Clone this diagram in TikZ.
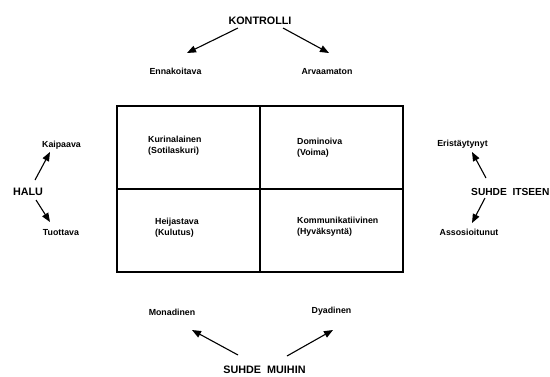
\documentclass[tikz,border=0pt]{standalone}
\usepackage{fontspec}
\setmainfont{Liberation Sans}
\usetikzlibrary{arrows.meta}
\tikzset{
  lbl/.style={font=\bfseries\fontsize{8.8}{10.5}\selectfont, inner sep=0pt, align=left},
  caplbl/.style={font=\bfseries\fontsize{10.8}{12}\selectfont, inner sep=0pt},
  arr/.style={line width=1.1pt, -{Triangle[length=9pt,width=7pt]}},
  gridline/.style={line width=1.3pt}
}
\begin{document}
\begin{tikzpicture}[x=1pt,y=-1pt]
\useasboundingbox (0,0) rectangle (550,376);
% box
\draw[gridline] (117,106) rectangle (403,272);
\draw[gridline] (260,106) -- (260,272);
\draw[gridline] (117,189) -- (403,189);
% quadrant texts
\node[lbl, anchor=west] (kuri) at (148,145.5) {Kurinalainen\\(Sotilaskuri)};
\node[lbl, anchor=west] (domi) at (297,147.5) {Dominoiva\\(Voima)};
\node[lbl, anchor=west] (heij) at (155,227.5) {Heijastava\\(Kulutus)};
\node[lbl, anchor=west] (komm) at (297,226.5) {Kommunikatiivinen\\(Hyväksyntä)};
% top
\node[caplbl] (kontrolli) at (260,21) {KONTROLLI};
\node[lbl] (enna) at (175.5,71) {Ennakoitava};
\node[lbl] (arva) at (327,72) {Arvaamaton};
\draw[arr] ([shift={(-22,7)}]kontrolli.center) -- ([shift={(11.5,-18)}]enna.center);
\draw[arr] ([shift={(23,7)}]kontrolli.center) -- ([shift={(2,-19)}]arva.center);
% bottom
\node[caplbl] (muihin) at (264.5,370) {SUHDE\ \ MUIHIN};
\node[lbl] (mona) at (172,312) {Monadinen};
\node[lbl] (dyad) at (331.5,311) {Dyadinen};
\draw[arr] ([shift={(-26.5,-15)}]muihin.center) -- ([shift={(20,18)}]mona.center);
\draw[arr] ([shift={(22.5,-14)}]muihin.center) -- ([shift={(1.5,19)}]dyad.center);
% left
\node[caplbl] (halu) at (28,192) {HALU};
\node[lbl] (kaip) at (61.5,145) {Kaipaava};
\node[lbl] (tuot) at (61,233) {Tuottava};
\draw[arr] ([shift={(7,-12)}]halu.center) -- ([shift={(-11.5,7)}]kaip.center);
\draw[arr] ([shift={(8,8)}]halu.center) -- ([shift={(-11,-11)}]tuot.center);
% right
\node[caplbl, font=\bfseries\fontsize{10.2}{12}\selectfont, anchor=west] (itseen) at (471,192) {SUHDE\ \ ITSEEN};
\node[lbl] (erist) at (462.5,144) {Eristäytynyt};
\node[lbl] (asso) at (469,232) {Assosioitunut};
\draw[arr] ([shift={(15,-14)}]itseen.west) -- ([shift={(9.5,8)}]erist.center);
\draw[arr] ([shift={(14,6)}]itseen.west) -- ([shift={(3,-9)}]asso.center);
\end{tikzpicture}
\end{document}
